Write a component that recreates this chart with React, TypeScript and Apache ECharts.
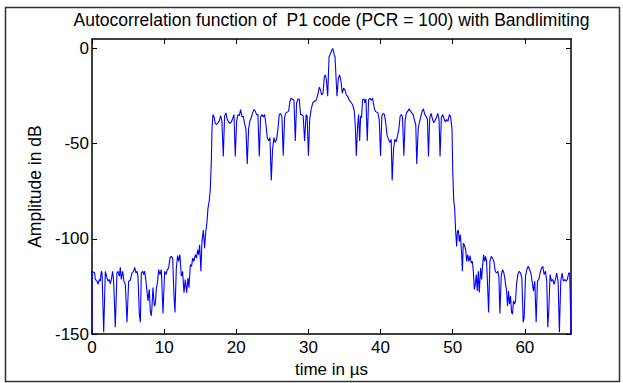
import React, { useEffect, useRef } from "react";
import * as echarts from "echarts";

const TITLE = "Autocorrelation function of  P1 code (PCR = 100) with Bandlimiting";
const X_NAME = "time in \u00b5s";
const Y_NAME = "Amplitude in dB";
const X_TICKS = [0, 10, 20, 30, 40, 50, 60];
const Y_TICKS = [-150, -100, -50, 0];

// left half (0 .. ~29.5 us)
const timeLeft = [
  0, 0.02, 0.09, 0.37, 0.46, 0.69, 0.83, 1.02, 1.15, 1.29, 1.39, 1.62, 1.85, 2.08, 2.22, 2.4, 2.54, 2.68, 2.86, 3.0,
  3.23, 3.46, 3.6, 3.79, 3.93, 4.06, 4.25, 4.43, 4.62, 4.85, 5.08, 5.31, 5.54, 5.77, 5.91, 6.1, 6.24, 6.37, 6.56, 6.7,
  6.84, 7.02, 7.16, 7.3, 7.48, 7.62, 7.76, 7.94, 8.08, 8.22, 8.31, 8.45, 8.64, 8.78, 8.91, 9.1, 9.24, 9.42, 9.61, 9.84,
  10.07, 10.25, 10.44, 10.62, 10.81, 10.99, 11.18, 11.36, 11.5, 11.69, 11.87, 12.01, 12.19, 12.38, 12.56, 12.75, 12.93, 13.12, 13.3, 13.44,
  13.63, 13.81, 13.95, 14.13, 14.32, 14.5, 14.64, 14.78, 14.92, 15.1, 15.24, 15.43, 15.61, 15.75, 15.94, 16.07, 16.26, 16.4, 16.54, 16.63,
  16.77, 16.95, 17.09, 17.27, 17.46, 17.64, 17.83, 18.01, 18.2, 18.38, 18.57, 18.75, 18.94, 19.12, 19.31, 19.49, 19.68, 19.86, 20.05, 20.23,
  20.42, 20.6, 20.79, 20.97, 21.15, 21.34, 21.52, 21.71, 21.89, 22.08, 22.26, 22.45, 22.63, 22.82, 23.0, 23.19, 23.37, 23.56, 23.74, 23.93,
  24.11, 24.3, 24.48, 24.67, 24.85, 25.03, 25.22, 25.4, 25.59, 25.77, 25.96, 26.14, 26.33, 26.51, 26.7, 26.88, 27.07, 27.25, 27.44, 27.62,
  27.81, 27.99, 28.18, 28.36, 28.55, 28.73, 28.91, 29.1, 29.28, 29.47,
];
const ampLeft = [
  -150, -117.0, -117.0, -117.9, -121.3, -122.2, -123.9, -121.3, -122.2, -117.0, -117.9, -149.0, -117.0, -120.5, -122.2, -121.3, -123.6, -121.3, -117.0, -122.2,
  -146.4, -117.9, -117.0, -119.6, -114.9, -121.3, -117.0, -122.2, -123.9, -143.8, -122.2, -121.7, -117.9, -117.0, -114.9, -117.9, -117.0, -119.6, -139.5, -143.8,
  -117.9, -117.0, -118.7, -117.0, -122.2, -127.4, -132.6, -126.5, -137.8, -140.4, -136.0, -125.6, -135.2, -134.3, -126.5, -122.2, -116.1, -118.7, -116.1, -139.2,
  -117.0, -118.7, -116.1, -115.3, -110.1, -109.2, -110.1, -129.1, -138.6, -115.3, -108.7, -111.8, -108.3, -119.6, -117.0, -128.2, -121.3, -128.2, -120.5, -125.6,
  -113.5, -114.4, -110.1, -111.8, -108.3, -110.1, -105.7, -108.3, -103.1, -117.0, -101.4, -95.3, -104.9, -97.1, -91.0, -84.1, -79.7, -73.7, -59.8, -42.5,
  -34.7, -36.4, -39.3, -39.9, -39.0, -38.1, -35.2, -38.1, -56.7, -35.5, -33.8, -37.3, -38.6, -39.3, -38.6, -36.9, -34.7, -56.7, -38.1, -34.7,
  -35.2, -32.1, -35.9, -35.5, -39.5, -42.5, -60.7, -42.1, -38.1, -36.4, -33.8, -32.1, -32.9, -34.7, -34.7, -56.7, -35.9, -34.7, -35.9, -34.7,
  -39.9, -46.8, -48.5, -46.8, -69.3, -52.9, -46.8, -49.4, -47.7, -42.5, -34.7, -34.1, -35.9, -56.3, -35.9, -33.8, -33.4, -32.9, -27.7, -26.0,
  -26.9, -26.9, -48.5, -28.6, -26.5, -26.5, -34.7, -34.7, -35.5, -48.5,
];

// right half (~29.7 .. 66.4 us)
const timeRight = [
  29.68, 29.82, 30.0, 30.18, 30.37, 30.6, 30.83, 31.06, 31.29, 31.52, 31.66, 31.84, 32.03, 32.21, 32.35, 32.49, 32.67, 32.86, 33.04, 33.23,
  33.36, 33.5, 33.59, 33.69, 33.82, 33.96, 34.15, 34.33, 34.52, 34.7, 34.88, 35.07, 35.25, 35.44, 35.67, 35.9, 36.13, 36.36, 36.5, 36.64,
  36.82, 36.96, 37.1, 37.24, 37.37, 37.51, 37.7, 37.83, 37.97, 38.16, 38.34, 38.53, 38.71, 38.89, 39.08, 39.26, 39.45, 39.63, 39.82, 40.0,
  40.18, 40.37, 40.55, 40.74, 40.92, 41.11, 41.29, 41.47, 41.61, 41.8, 41.98, 42.17, 42.35, 42.53, 42.72, 42.9, 43.04, 43.23, 43.41, 43.59,
  43.78, 43.96, 44.15, 44.33, 44.52, 44.7, 44.88, 45.02, 45.21, 45.39, 45.58, 45.76, 45.94, 46.13, 46.31, 46.5, 46.64, 46.82, 47.0, 47.19,
  47.37, 47.56, 47.74, 47.93, 48.11, 48.25, 48.43, 48.62, 48.8, 48.99, 49.17, 49.35, 49.54, 49.72, 49.91, 50.0, 50.14, 50.28, 50.41, 50.55,
  50.65, 50.78, 50.92, 51.06, 51.24, 51.34, 51.47, 51.61, 51.8, 51.94, 52.07, 52.26, 52.4, 52.58, 52.72, 52.86, 53.0, 53.13, 53.27, 53.41,
  53.55, 53.69, 53.87, 54.01, 54.15, 54.29, 54.42, 54.56, 54.7, 54.84, 54.98, 55.16, 55.35, 55.53, 55.71, 55.9, 56.08, 56.27, 56.41, 56.54,
  56.73, 56.91, 57.1, 57.28, 57.47, 57.6, 57.74, 57.88, 58.02, 58.16, 58.29, 58.43, 58.57, 58.71, 58.85, 59.03, 59.22, 59.4, 59.59, 59.77,
  59.91, 60.09, 60.28, 60.46, 60.65, 60.83, 61.01, 61.2, 61.38, 61.57, 61.75, 61.94, 62.12, 62.3, 62.49, 62.67, 62.86, 63.04, 63.18, 63.32,
  63.5, 63.69, 63.87, 64.06, 64.24, 64.42, 64.61, 64.79, 64.98, 65.16, 65.35, 65.53, 65.71, 65.9, 66.08, 66.22, 66.41,
];
const ampRight = [
  -34.7, -35.5, -56.3, -37.3, -32.1, -28.6, -27.7, -27.2, -24.3, -20.3, -21.7, -24.3, -23.4, -14.7, -13.9, -16.5, -25.1, -4.3, -2.9, -0.9,
  0, -1.7, -3.5, -4.3, -14.7, -25.1, -15.6, -13.9, -17.3, -23.4, -20.8, -21.7, -24.3, -25.1, -27.2, -28.2, -29.5, -32.9, -40.7, -56.3,
  -40.7, -34.7, -48.5, -35.5, -36.4, -26.9, -26.5, -28.6, -26.5, -48.5, -26.9, -26.2, -27.2, -26.0, -30.3, -32.9, -33.4, -33.8, -37.6, -56.3,
  -35.5, -34.1, -34.7, -39.9, -45.9, -47.7, -49.4, -47.7, -69.3, -52.9, -47.7, -49.0, -45.9, -42.5, -35.5, -34.7, -35.9, -56.3, -37.3, -33.8,
  -32.9, -31.7, -32.9, -33.8, -34.7, -37.6, -39.9, -60.7, -42.5, -38.6, -35.9, -32.9, -31.7, -34.7, -35.5, -37.3, -56.7, -36.4, -34.1, -36.9,
  -39.0, -37.6, -36.4, -34.1, -37.3, -56.7, -36.4, -34.7, -36.9, -38.6, -37.3, -38.1, -34.7, -35.9, -42.5, -63.3, -79.7, -84.1, -96.2, -104.0,
  -96.2, -95.3, -101.4, -97.9, -107.5, -117.0, -102.3, -103.1, -105.7, -111.8, -108.3, -111.8, -108.7, -112.7, -111.8, -117.0, -126.5, -123.9, -118.7, -127.4,
  -117.0, -128.2, -115.3, -121.3, -113.5, -108.3, -111.8, -109.2, -111.8, -124.8, -138.6, -111.8, -109.2, -110.1, -111.8, -117.0, -117.9, -117.0, -120.5, -139.2,
  -119.6, -116.1, -117.9, -122.2, -127.4, -135.2, -127.4, -134.3, -130.0, -138.6, -139.5, -132.6, -134.3, -132.6, -123.9, -118.7, -117.0, -117.9, -120.5, -143.8,
  -141.2, -119.6, -116.1, -114.4, -116.1, -117.9, -122.2, -127.4, -122.2, -143.8, -122.2, -121.3, -117.9, -115.3, -114.4, -118.7, -117.0, -122.2, -146.4, -137.8,
  -118.7, -122.2, -121.3, -123.9, -121.3, -117.9, -122.2, -149.0, -122.2, -117.9, -122.2, -121.3, -122.2, -121.3, -117.9, -117.9, -150,
];

const FONT = "'Liberation Sans', Arial, Helvetica, sans-serif";

export default function App() {
  const ref = useRef<HTMLDivElement>(null);
  useEffect(() => {
    if (!ref.current) return;
    const chart = echarts.init(ref.current, null, { renderer: "svg" });
    const times = [...timeLeft, ...timeRight];
    const amps = [...ampLeft, ...ampRight];
    const data = times.map((t, i) => [t, amps[i]]);
    const axisLine = { show: true, onZero: false, lineStyle: { color: "#000", width: 1.5 } };
    const tickStyle = { color: "#000", width: 1 };
    chart.setOption({
      animation: false,
      backgroundColor: "#fff",
      textStyle: { fontFamily: FONT },
      grid: { left: 92, right: 52, top: 39, bottom: 46, containLabel: false },
      xAxis: [
        {
          type: "value",
          min: 0,
          max: 66.4,
          name: X_NAME,
          nameLocation: "middle",
          nameGap: 22,
          nameTextStyle: { color: "#000", fontSize: 17, fontFamily: FONT },
          axisLine,
          axisTick: { show: true, inside: true, length: 5, lineStyle: tickStyle, customValues: X_TICKS },
          axisLabel: { color: "#000", fontSize: 17, fontFamily: FONT, margin: 5, customValues: X_TICKS },
          splitLine: { show: false },
        },
        {
          type: "value",
          position: "top",
          min: 0,
          max: 66.4,
          axisLine,
          axisTick: { show: true, inside: true, length: 5, lineStyle: tickStyle, customValues: X_TICKS },
          axisLabel: { show: false },
          splitLine: { show: false },
        },
      ],
      yAxis: [
        {
          type: "value",
          min: -150,
          max: 5,
          name: Y_NAME,
          nameLocation: "middle",
          nameRotate: 90,
          nameGap: 38,
          nameTextStyle: { color: "#000", fontSize: 17.5, fontFamily: FONT },
          axisLine,
          axisTick: { show: true, inside: true, length: 5, lineStyle: tickStyle, customValues: Y_TICKS },
          axisLabel: { color: "#000", fontSize: 17, fontFamily: FONT, margin: 3, customValues: Y_TICKS },
          splitLine: { show: false },
        },
        {
          type: "value",
          position: "right",
          min: -150,
          max: 5,
          axisLine,
          axisTick: { show: true, inside: true, length: 5, lineStyle: tickStyle, customValues: Y_TICKS },
          axisLabel: { show: false },
          splitLine: { show: false },
        },
      ],
      graphic: [
        {
          type: "rect",
          shape: { x: 5.5, y: 7.5, width: 614, height: 374 },
          style: { fill: "none", stroke: "#333", lineWidth: 1.5 },
          silent: true,
        },
        {
          type: "text",
          x: 331.5,
          y: 20,
          style: {
            text: TITLE,
            fill: "#000",
            font: `17.5px ${FONT}`,
            textAlign: "center",
            textVerticalAlign: "middle",
          },
        },
      ],
      series: [
        {
          type: "line",
          xAxisIndex: 0,
          yAxisIndex: 0,
          data,
          showSymbol: false,
          clip: true,
          lineStyle: { color: "#0000ff", width: 1.1 },
          itemStyle: { color: "#0000ff" },
        },
      ],
    });
    return () => chart.dispose();
  }, []);
  return (
    <div
      ref={ref}
      style={{ position: "fixed", left: 0, top: 0, width: 623, height: 383, background: "#fff" }}
    />
  );
}
